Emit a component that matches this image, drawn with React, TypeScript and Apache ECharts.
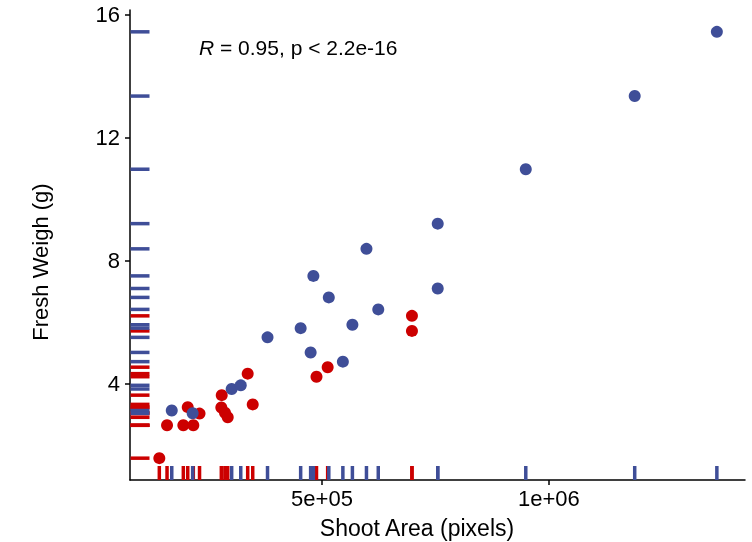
import React, { useEffect, useRef } from "react";
import * as echarts from "echarts";

// Shoot area (pixels) and fresh weight (g) for the two groups
const blueArea = [1370000, 1189000, 949000, 755000, 755000, 598000, 481000, 515000, 624000, 453000, 567000, 475000, 546000, 380000, 169000, 215000, 301000, 321000];
const blueWeight = [15.44, 13.35, 10.97, 9.2, 7.09, 8.38, 7.5, 6.8, 6.41, 5.8, 5.91, 5.01, 4.71, 5.5, 3.12, 3.03, 3.82, 3.94];
const redArea = [141600, 158600, 194500, 216500, 204200, 230200, 279100, 278200, 286300, 292300, 336300, 347400, 487900, 512500, 698200, 698200];
const redWeight = [1.57, 2.64, 2.64, 2.64, 3.23, 3.02, 3.62, 3.22, 3.05, 2.9, 4.32, 3.32, 4.22, 4.53, 6.2, 5.71];

const xTicks = [500000, 1000000];
const xTickLabels = ["5e+05", "1e+06"];
const yTicks = [4, 8, 12, 16];
const xLimits = [77000, 1432000];
const yLimits = [0.86, 16.15];

const BLUE = "#3F4E98";
const RED = "#CC0000";
const FONT = "Liberation Sans, Arial, sans-serif";

export default function App() {
  const ref = useRef<HTMLDivElement>(null);
  useEffect(() => {
    if (!ref.current) return;
    const chart = echarts.init(ref.current, undefined, { renderer: "svg" });
    const pts = (xs: number[], ys: number[]) => xs.map((x, i) => [x, ys[i]]);
    const xRug = (xs: number[]) => xs.map((x) => [x, yLimits[0]]);
    const yRug = (ys: number[]) => ys.map((y) => [xLimits[0], y]);
    const tickLabelMap: Record<number, string> = {};
    xTicks.forEach((t, i) => (tickLabelMap[t] = xTickLabels[i]));

    const rugX = (data: number[][], color: string) => ({
      type: "scatter",
      data,
      symbol: "rect",
      symbolSize: [3.5, 14],
      symbolOffset: [0, -7],
      clip: false,
      silent: true,
      itemStyle: { color, opacity: 1 },
    });
    const rugY = (data: number[][], color: string) => ({
      type: "scatter",
      data,
      symbol: "rect",
      symbolSize: [19, 3.5],
      symbolOffset: [10, 0],
      clip: false,
      silent: true,
      itemStyle: { color, opacity: 1 },
    });

    chart.setOption({
      animation: false,
      grid: { left: 130, right: 7, top: 10, bottom: 62 },
      xAxis: {
        type: "value",
        min: xLimits[0],
        max: xLimits[1],
        splitLine: { show: false },
        axisLine: { show: true, onZero: false, lineStyle: { color: "#000", width: 1.5 } },
        axisTick: { show: true, customValues: xTicks, length: 5, lineStyle: { color: "#000", width: 1.5 } },
        axisLabel: {
          customValues: xTicks,
          formatter: (v: number) => tickLabelMap[v] ?? "",
          color: "#000",
          fontSize: 22,
          fontFamily: FONT,
          margin: 7,
        },
      },
      yAxis: {
        type: "value",
        min: yLimits[0],
        max: yLimits[1],
        splitLine: { show: false },
        axisLine: { show: true, onZero: false, lineStyle: { color: "#000", width: 1.5 } },
        axisTick: { show: true, customValues: yTicks, length: 5, lineStyle: { color: "#000", width: 1.5 } },
        axisLabel: {
          customValues: yTicks,
          color: "#000",
          fontSize: 22,
          fontFamily: FONT,
          margin: 10,
        },
      },
      series: [
        rugX(xRug(redArea), RED),
        rugY(yRug(redWeight), RED),
        rugX(xRug(blueArea), BLUE),
        rugY(yRug(blueWeight), BLUE),
        {
          type: "scatter",
          data: pts(redArea, redWeight),
          symbolSize: 12,
          clip: false,
          itemStyle: { color: RED, opacity: 1 },
        },
        {
          type: "scatter",
          data: pts(blueArea, blueWeight),
          symbolSize: 12,
          clip: false,
          itemStyle: { color: BLUE, opacity: 1 },
        },
      ],
      graphic: [
        {
          type: "text",
          x: 199,
          y: 47,
          style: {
            text: "{i|R} = 0.95, p < 2.2e-16",
            textVerticalAlign: "middle",
            font: `21px ${FONT}`,
            fill: "#000",
            rich: { i: { fontStyle: "italic", fontSize: 21, fontFamily: FONT } },
          },
        },
        {
          type: "text",
          x: 417,
          y: 528,
          style: {
            text: "Shoot Area (pixels)",
            textAlign: "center",
            textVerticalAlign: "middle",
            font: `23px ${FONT}`,
            fill: "#000",
          },
        },
        {
          type: "text",
          x: 40,
          y: 262,
          rotation: Math.PI / 2,
          style: {
            text: "Fresh Weigh (g)",
            textAlign: "center",
            textVerticalAlign: "middle",
            font: `22px ${FONT}`,
            fill: "#000",
          },
        },
      ],
    });
    return () => chart.dispose();
  }, []);
  return <div ref={ref} style={{ position: "fixed", left: 0, top: 0, width: 752, height: 542 }} />;
}
